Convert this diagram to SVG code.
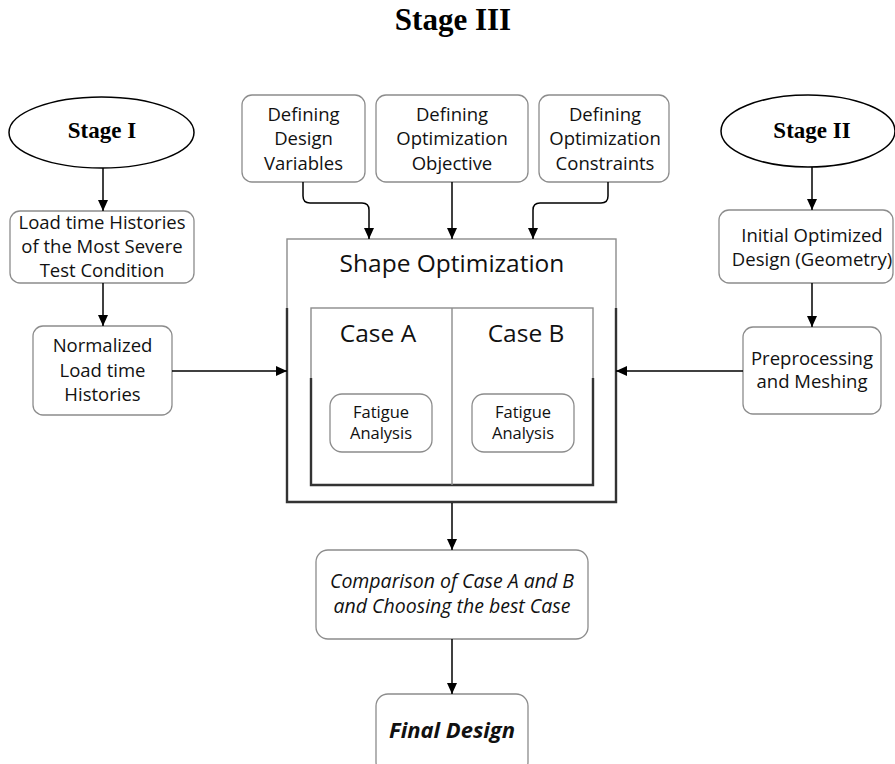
<svg xmlns="http://www.w3.org/2000/svg" width="895" height="764" viewBox="0 0 895 764">
<style>
.bg{fill:#ffffff}
.box{fill:#ffffff;stroke:#8c8c8c;stroke-width:1.3}
.ell{fill:#ffffff;stroke:#000000;stroke-width:1.5}
.thin{fill:none;stroke:#8c8c8c;stroke-width:1.4}
.thick{fill:none;stroke:#333333;stroke-width:2.4}
.conn{fill:none;stroke:#000000;stroke-width:1.5}
.serif{font-family:"Liberation Serif","Times New Roman",serif;font-weight:bold;fill:#000;text-anchor:middle}
.t{font-family:"Open Sans","Noto Sans",sans-serif;font-size:18.5px;fill:#111;text-anchor:middle}
.big{font-family:"Open Sans","Noto Sans",sans-serif;font-size:24.5px;fill:#111;text-anchor:middle}
.small{font-family:"Open Sans","Noto Sans",sans-serif;font-size:16.5px;fill:#111;text-anchor:middle}
.it{font-family:"Open Sans","Noto Sans",sans-serif;font-size:19.5px;font-style:italic;fill:#111;text-anchor:middle}
.bi{font-family:"Open Sans","Noto Sans",sans-serif;font-size:22px;font-style:italic;font-weight:bold;fill:#111;text-anchor:middle}
</style>
<defs>
<marker id="arr" markerUnits="userSpaceOnUse" markerWidth="12" markerHeight="12" viewBox="0 0 12 12" refX="11" refY="6" orient="auto">
<path d="M0,1 L11,6 L0,11 Z" fill="#000"/>
</marker>
</defs>
<rect class="bg" x="0" y="0" width="895" height="764"/>

<text class="serif" x="453" y="30" font-size="31">Stage III</text>

<g id="stage1">
<ellipse class="ell" cx="101.5" cy="132.5" rx="92.5" ry="35.5"/>
<text class="serif" x="102" y="138" font-size="23">Stage I</text>
</g>

<g id="stage2">
<ellipse class="ell" cx="808" cy="131" rx="87" ry="36"/>
<text class="serif" x="812" y="138" font-size="23">Stage II</text>
</g>

<g id="load">
<rect class="box" x="10" y="211" width="184" height="72" rx="10"/>
<text class="t" x="102" y="229">Load time Histories</text>
<text class="t" x="102" y="253">of the Most Severe</text>
<text class="t" x="102" y="277">Test Condition</text>
</g>

<g id="normalized">
<rect class="box" x="33" y="326" width="139" height="89" rx="10"/>
<text class="t" x="102.5" y="352">Normalized</text>
<text class="t" x="102.5" y="377">Load time</text>
<text class="t" x="102.5" y="401">Histories</text>
</g>

<g id="designvars">
<rect class="box" x="242" y="95" width="123" height="87" rx="10"/>
<text class="t" x="303.5" y="121">Defining</text>
<text class="t" x="303.5" y="145">Design</text>
<text class="t" x="303.5" y="170">Variables</text>
</g>

<g id="objective">
<rect class="box" x="376" y="95" width="152" height="87" rx="10"/>
<text class="t" x="452" y="121">Defining</text>
<text class="t" x="452" y="145">Optimization</text>
<text class="t" x="452" y="170">Objective</text>
</g>

<g id="constraints">
<rect class="box" x="539" y="95" width="130" height="87" rx="10"/>
<text class="t" x="605" y="121">Defining</text>
<text class="t" x="605" y="145">Optimization</text>
<text class="t" x="605" y="170">Constraints</text>
</g>

<g id="initial">
<rect class="box" x="719" y="210" width="174" height="73" rx="10"/>
<text class="t" x="812" y="242">Initial Optimized</text>
<text class="t" x="812" y="266">Design (Geometry)</text>
</g>

<g id="preprocessing">
<rect class="box" x="743" y="327" width="138" height="87" rx="10"/>
<text class="t" x="812" y="365">Preprocessing</text>
<text class="t" x="812" y="388">and Meshing</text>
</g>

<g id="shapeopt">
<rect class="thin" x="287" y="239" width="329" height="263"/>
<path class="thick" d="M287,308 V502 H616 V308"/>
<text class="big" x="452" y="272">Shape Optimization</text>
<rect class="thin" x="311" y="308" width="282" height="177"/>
<path class="thick" d="M311,378 V485 H593 V378"/>
<line class="thin" x1="452" y1="308" x2="452" y2="485"/>
<text class="big" x="378" y="342">Case A</text>
<text class="big" x="526" y="342">Case B</text>
</g>

<g id="fatigueA">
<rect class="box" x="330" y="394" width="102" height="58" rx="12"/>
<text class="small" x="381" y="418">Fatigue</text>
<text class="small" x="381" y="439">Analysis</text>
</g>

<g id="fatigueB">
<rect class="box" x="472" y="394" width="102" height="58" rx="12"/>
<text class="small" x="523" y="418">Fatigue</text>
<text class="small" x="523" y="439">Analysis</text>
</g>

<g id="comparison">
<rect class="box" x="316" y="550" width="272" height="89" rx="12"/>
<text class="it" x="452" y="588">Comparison of Case A and B</text>
<text class="it" x="452" y="613">and Choosing the best Case</text>
</g>

<g id="final">
<rect class="box" x="376" y="694" width="152" height="80" rx="12"/>
<text class="bi" x="452" y="738">Final Design</text>
</g>

<g id="connectors">
<line class="conn" x1="103" y1="168" x2="103" y2="211" marker-end="url(#arr)"/>
<line class="conn" x1="103" y1="283" x2="103" y2="326" marker-end="url(#arr)"/>
<line class="conn" x1="172" y1="371" x2="287" y2="371" marker-end="url(#arr)"/>
<path class="conn" d="M303,182 V196 Q303,203 310,203 H362 Q369,203 369,210 V239" marker-end="url(#arr)"/>
<line class="conn" x1="452" y1="182" x2="452" y2="239" marker-end="url(#arr)"/>
<path class="conn" d="M608,182 V196 Q608,203 601,203 H540 Q533,203 533,210 V239" marker-end="url(#arr)"/>
<line class="conn" x1="812" y1="167" x2="812" y2="210" marker-end="url(#arr)"/>
<line class="conn" x1="812" y1="283" x2="812" y2="327" marker-end="url(#arr)"/>
<line class="conn" x1="743" y1="371" x2="616" y2="371" marker-end="url(#arr)"/>
<line class="conn" x1="452" y1="503" x2="452" y2="550" marker-end="url(#arr)"/>
<line class="conn" x1="452" y1="639" x2="452" y2="694" marker-end="url(#arr)"/>
</g>
</svg>
